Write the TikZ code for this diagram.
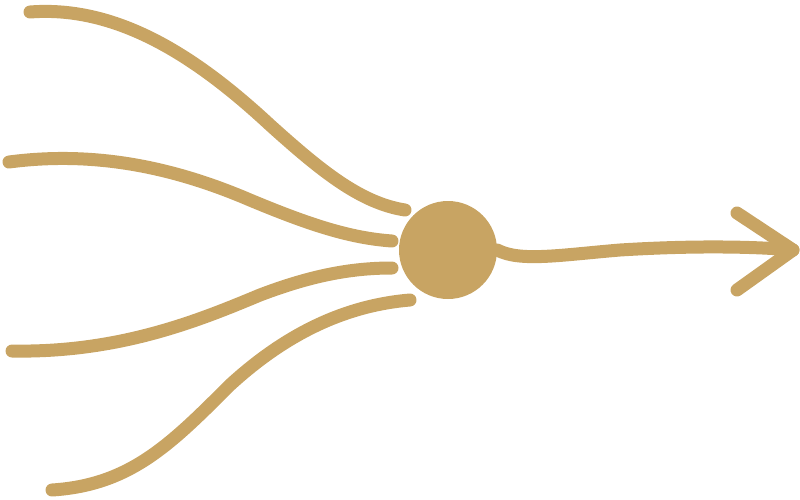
\documentclass[tikz,border=0pt]{standalone}
\definecolor{gold}{HTML}{C8A463}
\begin{document}
\begin{tikzpicture}[x=1pt,y=-1pt,
  strand/.style={draw=gold,line width=13pt,line cap=round,line join=round}]
\useasboundingbox (0,0) rectangle (800,499);
\node[circle,fill=gold,minimum size=98pt,inner sep=0pt] (hub) at (448,250) {};
\coordinate (s1) at (30,12);
\coordinate (s2) at (9,162);
\coordinate (s3) at (12,351);
\coordinate (s4) at (52,490);
\coordinate (e1) at (405,210);
\coordinate (e2) at (392,241);
\coordinate (e3) at (392,268);
\coordinate (e4) at (410,300);
\coordinate (tip) at (793,250);
\coordinate (hu) at (737,213);
\coordinate (hl) at (737,290);
\draw[strand] (s1) .. controls (120,5) and (200,60) .. (270,125) .. controls (320,170) and (360,203) .. (e1);
\draw[strand] (s2) .. controls (100,150) and (180,170) .. (250,200) .. controls (310,225) and (350,238) .. (e2);
\draw[strand] (s3) .. controls (120,353) and (200,320) .. (260,295) .. controls (310,276) and (350,268) .. (e3);
\draw[strand] (s4) .. controls (130,485) and (170,445) .. (230,385) .. controls (290,330) and (350,305) .. (e4);
\draw[strand] (hub.east) .. controls (520,262) and (560,255) .. (620,250) .. controls (700,245) and (760,247) .. (tip);
\draw[strand] (hu) -- (tip) -- (hl);
\end{tikzpicture}
\end{document}
